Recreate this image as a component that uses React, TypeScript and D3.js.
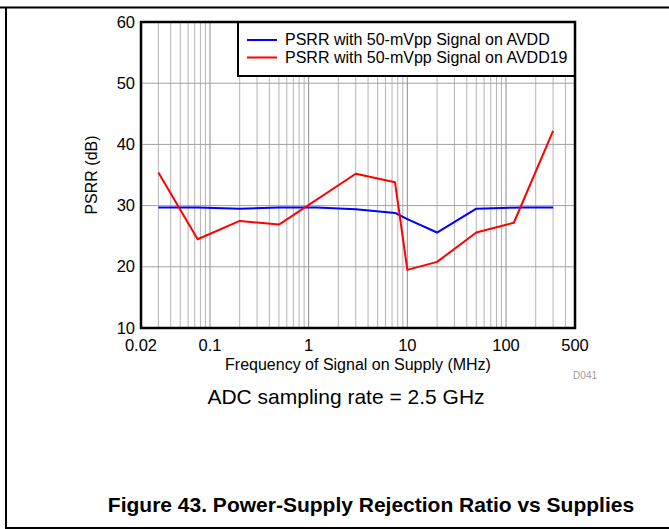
import React, { useEffect, useRef } from 'react';
import * as d3 from 'd3';

const freqAvdd = [0.03, 0.075, 0.2, 0.5, 1.2, 3, 7.5, 10, 20, 50, 150, 300];
const psrrAvdd = [29.7, 29.7, 29.5, 29.7, 29.7, 29.4, 28.8, 27.8, 25.6, 29.5, 29.7, 29.7];

const freqAvdd19 = [0.03, 0.075, 0.2, 0.5, 3, 7.5, 10, 20, 50, 120, 300];
const psrrAvdd19 = [35.4, 24.5, 27.5, 26.9, 35.2, 33.8, 19.5, 20.8, 25.6, 27.2, 42.2];

const xTicks = [0.02, 0.1, 1, 10, 100, 500];
const yTicks = [10, 20, 30, 40, 50, 60];

const seriesNames = ['PSRR with 50-mVpp Signal on AVDD', 'PSRR with 50-mVpp Signal on AVDD19'];
const seriesColors = ['#0000ff', '#ff0000'];

const W = 669;
const H = 529;

export default function App() {
  const svgRef = useRef<SVGSVGElement>(null);

  useEffect(() => {
    if (!svgRef.current) return;
    const svg = d3.select(svgRef.current);
    svg.selectAll('*').remove();

    const margin = { top: 22, right: 94, bottom: 201, left: 141 };
    const width = W - margin.left - margin.right;
    const height = H - margin.top - margin.bottom;
    const font = 'Arial, "Liberation Sans", sans-serif';

    // page frame
    svg.append('path')
      .attr('d', `M0,7.5 H${W} M6,7.5 V528 H${W}`)
      .attr('fill', 'none')
      .attr('stroke', '#000')
      .attr('stroke-width', 2);

    const g = svg.append('g').attr('transform', `translate(${margin.left},${margin.top})`);

    const x = d3.scaleLog().domain([0.02, 500]).range([0, width]);
    const y = d3.scaleLinear().domain([10, 60]).range([height, 0]);

    // minor grid lines
    const minor: number[] = [];
    [0.01, 0.1, 1, 10, 100].forEach(dec => {
      for (let k = 1; k <= 9; k++) {
        const v = dec * k;
        if (v > 0.02 && v < 500) minor.push(+v.toPrecision(3));
      }
    });
    g.selectAll('.vgrid')
      .data(minor)
      .enter()
      .append('line')
      .attr('x1', d => x(d))
      .attr('x2', d => x(d))
      .attr('y1', 0)
      .attr('y2', height)
      .attr('stroke', d => ([0.1, 1, 10, 100].includes(d) ? '#8c8c8c' : '#b4b4b4'))
      .attr('stroke-width', 1);

    g.selectAll('.hgrid')
      .data(yTicks.slice(1, -1))
      .enter()
      .append('line')
      .attr('x1', 0)
      .attr('x2', width)
      .attr('y1', d => y(d))
      .attr('y2', d => y(d))
      .attr('stroke', '#a0a0a0')
      .attr('stroke-width', 1);

    // lines
    const line = d3.line<[number, number]>()
      .x(d => x(d[0]))
      .y(d => y(d[1]));

    const series: [number, number][][] = [
      freqAvdd.map((f, i) => [f, psrrAvdd[i]]),
      freqAvdd19.map((f, i) => [f, psrrAvdd19[i]]),
    ];

    series.forEach((s, i) => {
      g.append('path')
        .datum(s)
        .attr('fill', 'none')
        .attr('stroke', seriesColors[i])
        .attr('stroke-width', 2)
        .attr('stroke-linejoin', 'round')
        .attr('d', line);
    });

    // legend
    const lx = x(0.02) + 97;
    const lg = g.append('g');
    lg.append('rect')
      .attr('x', lx)
      .attr('y', 0)
      .attr('width', width - lx)
      .attr('height', 54)
      .attr('fill', '#fff')
      .attr('stroke', '#000')
      .attr('stroke-width', 2);
    seriesNames.forEach((name, i) => {
      const yy = 18 + i * 17.5;
      lg.append('line')
        .attr('x1', lx + 9)
        .attr('x2', lx + 39)
        .attr('y1', yy)
        .attr('y2', yy)
        .attr('stroke', seriesColors[i])
        .attr('stroke-width', 2);
      lg.append('text')
        .attr('x', lx + 47)
        .attr('y', yy + 5)
        .attr('font-family', font)
        .attr('font-size', 16)
        .attr('fill', '#000')
        .text(name);
    });

    // plot frame
    g.append('rect')
      .attr('x', 0)
      .attr('y', 0)
      .attr('width', width)
      .attr('height', height)
      .attr('fill', 'none')
      .attr('stroke', '#000')
      .attr('stroke-width', 2.5);

    // tick labels
    g.selectAll('.ytl')
      .data(yTicks)
      .enter()
      .append('text')
      .attr('x', -6)
      .attr('y', d => y(d) + 5.5)
      .attr('text-anchor', 'end')
      .attr('font-family', font)
      .attr('font-size', 16.5)
      .attr('fill', '#000')
      .text(d => d);

    g.selectAll('.xtl')
      .data(xTicks)
      .enter()
      .append('text')
      .attr('x', d => x(d))
      .attr('y', height + 23)
      .attr('text-anchor', 'middle')
      .attr('font-family', font)
      .attr('font-size', 16.5)
      .attr('fill', '#000')
      .text(d => String(d));

    // axis titles
    g.append('text')
      .attr('transform', `translate(${-44},${height / 2}) rotate(-90)`)
      .attr('text-anchor', 'middle')
      .attr('font-family', font)
      .attr('font-size', 16)
      .attr('fill', '#000')
      .text('PSRR (dB)');

    g.append('text')
      .attr('x', width / 2)
      .attr('y', height + 42)
      .attr('text-anchor', 'middle')
      .attr('font-family', font)
      .attr('font-size', 16)
      .attr('fill', '#000')
      .text('Frequency of Signal on Supply (MHz)');

    svg.append('text')
      .attr('x', 597)
      .attr('y', 379)
      .attr('text-anchor', 'end')
      .attr('font-family', font)
      .attr('font-size', 10)
      .attr('fill', '#a0a0a0')
      .text('D041');

    svg.append('text')
      .attr('x', 346)
      .attr('y', 404)
      .attr('text-anchor', 'middle')
      .attr('font-family', font)
      .attr('font-size', 21)
      .attr('fill', '#000')
      .text('ADC sampling rate = 2.5 GHz');

    svg.append('text')
      .attr('x', 371)
      .attr('y', 512)
      .attr('text-anchor', 'middle')
      .attr('font-family', font)
      .attr('font-size', 21)
      .attr('font-weight', 'bold')
      .attr('fill', '#000')
      .text('Figure 43. Power-Supply Rejection Ratio vs Supplies');
  }, []);

  return (
    <svg
      ref={svgRef}
      width={W}
      height={H}
      style={{ position: 'absolute', left: 0, top: 0, background: '#fff' }}
    />
  );
}
